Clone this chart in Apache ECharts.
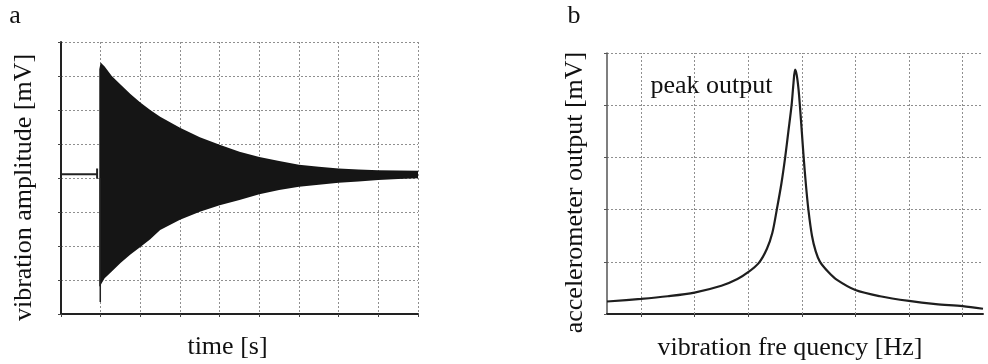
<!DOCTYPE html>
<html><head><meta charset="utf-8">
<script src="https://cdn.jsdelivr.net/npm/echarts@6/dist/echarts.min.js"></script>
<style>html,body{margin:0;padding:0;background:#fff}#c{width:988px;height:364px}</style>
</head><body><div id="c"></div>
<script>
// ---- Panel a: decaying vibration (envelope of the dense oscillation) ----
const timeA  = [0.965, 1.0, 1.1, 1.28, 1.5, 1.75, 2.0, 2.25, 2.5, 3.0, 3.5, 4.0, 4.5, 5.0, 5.5, 6.0, 6.5, 7.0, 7.5, 8.0, 8.5, 9.0];
const upperA = [7.2, 7.4, 7.28, 7.0, 6.75, 6.47, 6.22, 6.0, 5.8, 5.48, 5.2, 4.98, 4.77, 4.62, 4.5, 4.39, 4.33, 4.28, 4.25, 4.23, 4.22, 4.21];
const lowerA = [0.8, 0.85, 1.05, 1.25, 1.5, 1.75, 1.97, 2.2, 2.47, 2.77, 3.01, 3.2, 3.35, 3.52, 3.65, 3.74, 3.8, 3.86, 3.9, 3.94, 3.97, 3.99];
const preTimeA  = [0, 0.91];
const preLevelA = [4.11, 4.11];
const markTimeA = [0.91, 0.91];
const markLevelA = [3.98, 4.28];
const spikeTimeA = [0.99, 0.99];
const spikeLevelA = [4.0, 0.35];

// ---- Panel b: resonance curve ----
const freqB = [-0.633, 0, 0.5, 1.0, 1.5, 1.8, 2.0, 2.2, 2.35, 2.45, 2.534, 2.62, 2.69, 2.75, 2.81, 2.845, 2.875, 2.905, 2.94, 2.968, 3.0, 3.035, 3.075, 3.123, 3.19, 3.26, 3.34, 3.5, 3.65, 4.0, 4.46, 5.0, 5.5, 6.0, 6.38];
const outB  = [0.24, 0.29, 0.34, 0.41, 0.54, 0.67, 0.80, 0.98, 1.25, 1.55, 2.0, 2.5, 3.0, 3.5, 4.0, 4.42, 4.68, 4.58, 4.3, 3.95, 3.5, 3.0, 2.5, 2.0, 1.5, 1.2, 1.0, 0.8, 0.66, 0.46, 0.34, 0.25, 0.19, 0.15, 0.10];
const freqGridB = [0, 1, 2, 3, 4, 5, 6];

const gridStyle = { color: '#8f8f8f', type: [2, 2], width: 1 };
const serif = '"Liberation Serif", "DejaVu Serif", serif';

const chart = echarts.init(document.getElementById('c'), null, { renderer: 'canvas' });
chart.setOption({
  backgroundColor: '#fff',
  animation: false,
  grid: [
    { left: 61, top: 42, width: 357, height: 272 },
    { left: 607, top: 53, width: 376, height: 261 }
  ],
  xAxis: [
    { gridIndex: 0, type: 'value', min: 0, max: 9, interval: 1,
      axisLine: { show: true, onZero: false, lineStyle: { color: '#222', width: 2 } },
      axisTick: { show: true, length: 3, lineStyle: { color: '#444' } },
      axisLabel: { show: false },
      splitLine: { show: true, lineStyle: gridStyle } },
    { gridIndex: 1, type: 'value', min: -0.633, max: 6.38,
      axisLine: { show: true, onZero: false, lineStyle: { color: '#222', width: 2 } },
      axisTick: { show: true, length: 3, customValues: freqGridB, lineStyle: { color: '#444' } },
      axisLabel: { show: false },
      splitLine: { show: false } }
  ],
  yAxis: [
    { gridIndex: 0, type: 'value', min: 0, max: 8, interval: 1,
      axisLine: { show: true, onZero: false, lineStyle: { color: '#222', width: 2 } },
      axisTick: { show: true, length: 3, lineStyle: { color: '#444' } },
      axisLabel: { show: false },
      splitLine: { show: true, lineStyle: gridStyle } },
    { gridIndex: 1, type: 'value', min: 0, max: 5, interval: 1,
      axisLine: { show: true, onZero: false, lineStyle: { color: '#555', width: 1.5 } },
      axisTick: { show: true, length: 3, lineStyle: { color: '#555' } },
      axisLabel: { show: false },
      splitLine: { show: true, lineStyle: gridStyle } }
  ],
  series: [
    { type: 'custom', xAxisIndex: 0, yAxisIndex: 0, silent: true,
      data: [[timeA[0], upperA[0]]],
      renderItem: function (params, api) {
        const pts = [];
        for (let i = 0; i < timeA.length; i++) pts.push(api.coord([timeA[i], upperA[i]]));
        for (let i = timeA.length - 1; i >= 0; i--) pts.push(api.coord([timeA[i], lowerA[i]]));
        return { type: 'polygon', shape: { points: pts }, style: { fill: '#151515' } };
      } },
    { type: 'line', xAxisIndex: 0, yAxisIndex: 0, symbol: 'none', silent: true,
      data: preTimeA.map((t, i) => [t, preLevelA[i]]),
      lineStyle: { color: '#222', width: 2 } },
    { type: 'line', xAxisIndex: 0, yAxisIndex: 0, symbol: 'none', silent: true,
      data: markTimeA.map((t, i) => [t, markLevelA[i]]),
      lineStyle: { color: '#222', width: 2 } },
    { type: 'line', xAxisIndex: 0, yAxisIndex: 0, symbol: 'none', silent: true,
      data: spikeTimeA.map((t, i) => [t, spikeLevelA[i]]),
      lineStyle: { color: '#222', width: 1.5 } },
    { type: 'line', xAxisIndex: 1, yAxisIndex: 1, symbol: 'none', silent: true,
      smooth: 0.3,
      data: freqB.map((f, i) => [f, outB[i]]),
      lineStyle: { color: '#1e1e1e', width: 2.2 },
      z: 3,
      markLine: { silent: true, symbol: 'none', label: { show: false },
        lineStyle: gridStyle, z: 1,
        data: freqGridB.map(v => ({ xAxis: v })) } }
  ],
  graphic: [
    { type: 'text', x: 15, y: 16, style: { text: 'a', font: '26px ' + serif, fill: '#111', align: 'center', verticalAlign: 'middle' } },
    { type: 'text', x: 574, y: 16, style: { text: 'b', font: '26px ' + serif, fill: '#111', align: 'center', verticalAlign: 'middle' } },
    { type: 'text', x: 227.5, y: 347, style: { text: 'time [s]', font: '26px ' + serif, fill: '#111', align: 'center', verticalAlign: 'middle' } },
    { type: 'text', x: 790, y: 348, style: { text: 'vibration fre quency [Hz]', font: '26px ' + serif, fill: '#111', align: 'center', verticalAlign: 'middle' } },
    { type: 'text', x: 24, y: 187.5, rotation: Math.PI / 2, style: { text: 'vibration amplitude [mV]', font: '26px ' + serif, fill: '#111', align: 'center', verticalAlign: 'middle' } },
    { type: 'text', x: 575, y: 192.5, rotation: Math.PI / 2, style: { text: 'accelerometer output [mV]', font: '26px ' + serif, fill: '#111', align: 'center', verticalAlign: 'middle' } },
    { type: 'text', x: 711.5, y: 86, style: { text: 'peak output', font: '26px ' + serif, fill: '#111', align: 'center', verticalAlign: 'middle' } }
  ]
});
</script>
</body></html>
